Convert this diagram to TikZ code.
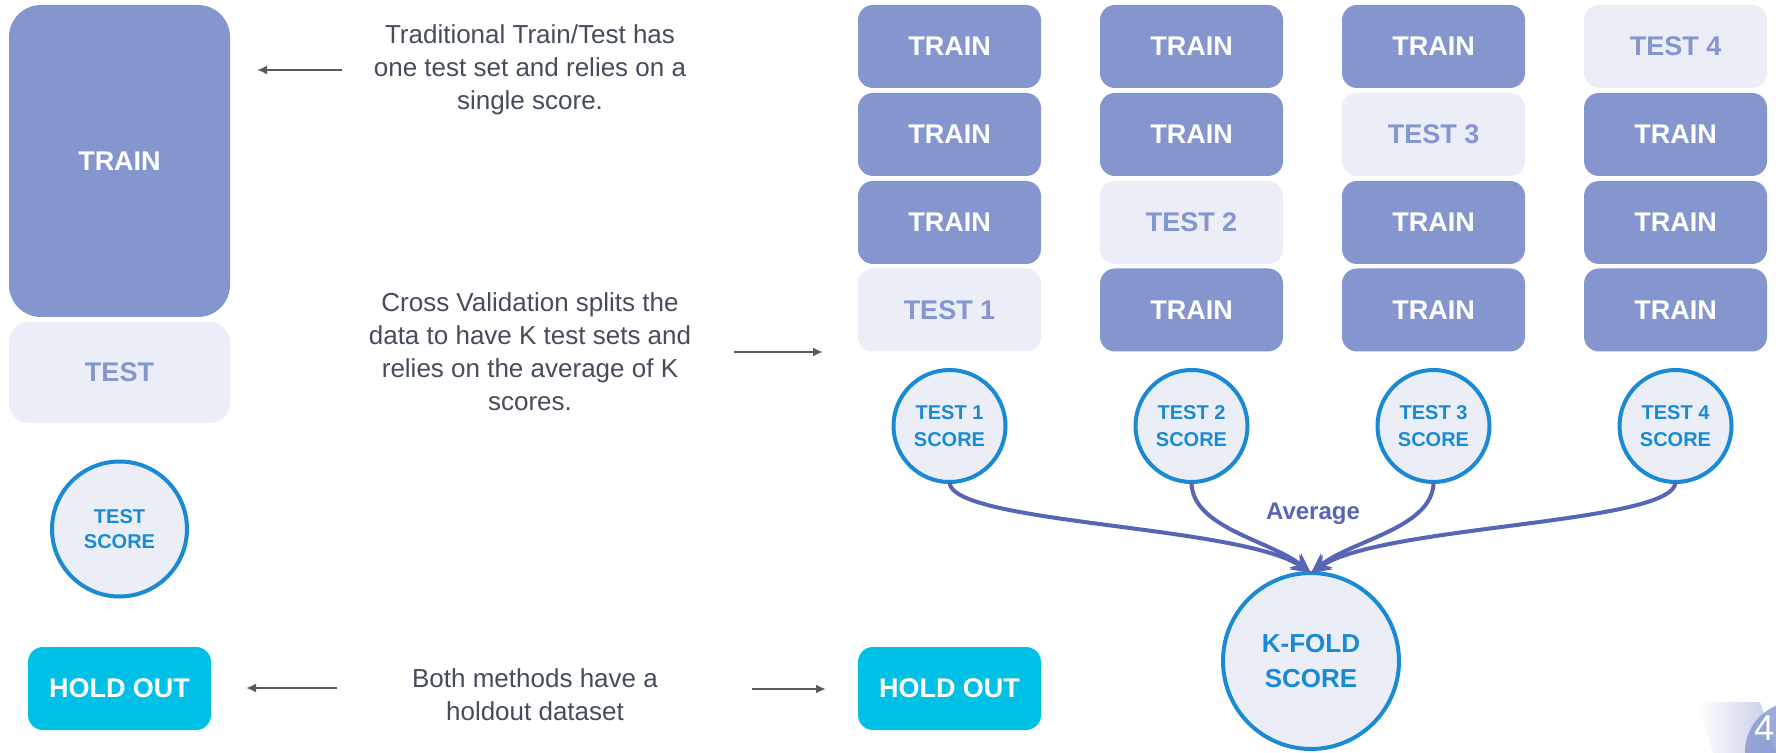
\documentclass[tikz,border=0pt]{standalone}
\usepackage{fontspec}
\setmainfont{Liberation Sans}
\usetikzlibrary{arrows.meta}

\definecolor{trainblue}{HTML}{8496CD}
\definecolor{testpale}{HTML}{EBEEF7}
\definecolor{holdcyan}{HTML}{00C0E6}
\definecolor{scoreblue}{HTML}{1A8AD4}
\definecolor{avgblue}{HTML}{5766B4}
\definecolor{notegray}{HTML}{454C5C}
\definecolor{arrowgray}{HTML}{5A5A5A}

\begin{document}
\begin{tikzpicture}[x=0.5pt,y=-0.5pt,
  every node/.style={inner sep=0pt, outer sep=0pt},
  trainbox/.style={fill=trainblue, rounded corners=7.5pt, minimum width=91.5pt, minimum height=41.5pt, text=white, font=\bfseries\fontsize{13.5}{16}\selectfont},
  testbox/.style={trainbox, fill=testpale, text=trainblue},
  holdbox/.style={trainbox, fill=holdcyan},
  scorecirc/.style={circle, draw=scoreblue, line width=2pt, fill=testpale, text=scoreblue, minimum size=56pt, align=center, font=\bfseries\fontsize{10}{13.5}\selectfont},
  note/.style={text=notegray, align=center, font=\fontsize{13}{16.5}\selectfont},
  notearrow/.style={draw=arrowgray, line width=1pt, -{Latex[length=5pt,width=4.5pt]}},
  avgline/.style={draw=avgblue, line width=2pt, -{Stealth[length=10pt,width=9pt]}}]
\fill[white] (0,0) rectangle (1776,753);
\useasboundingbox (0,0) rectangle (1776,753);

% traditional train/test
\node[trainbox, minimum width=110.5pt, minimum height=156pt, rounded corners=16pt] (train0) at (119.5,161) {TRAIN};
\node[testbox, minimum width=110.5pt, minimum height=50.5pt, rounded corners=10pt] (test0) at (119.5,372.5) {TEST};
\node[scorecirc, minimum size=67.5pt, font=\bfseries\fontsize{10}{12.5}\selectfont] (score0) at (119.5,529) {TEST\\SCORE};
\node[holdbox] (hold0) at (119.5,688.5) {HOLD OUT};

% notes in the middle
\node[note] (trad) at (530,70) {Traditional Train/Test has\\one test set and relies on a\\single score.};
\node[note] (cv) at (530,352) {Cross Validation splits the\\data to have K test sets and\\relies on the average of K\\scores.};
\node[note] (both) at (535,695) {Both methods have a\\holdout dataset};
\coordinate (n1s) at (342,70);  \coordinate (n1e) at (257,70);
\coordinate (n2s) at (734,352); \coordinate (n2e) at (823,352);
\coordinate (n3s) at (337,688); \coordinate (n3e) at (246,688);
\coordinate (n4s) at (752,689); \coordinate (n4e) at (826,689);
\draw[notearrow] (n1s) -- (n1e);
\draw[notearrow] (n2s) -- (n2e);
\draw[notearrow] (n3s) -- (n3e);
\draw[notearrow] (n4s) -- (n4e);

% k folds
\node[trainbox] (f1a) at (949.5,46.5) {TRAIN};
\node[trainbox] (f1b) at (949.5,134.5) {TRAIN};
\node[trainbox] (f1c) at (949.5,222.5) {TRAIN};
\node[testbox]  (f1d) at (949.5,310) {TEST 1};
\node[trainbox] (f2a) at (1191.5,46.5) {TRAIN};
\node[trainbox] (f2b) at (1191.5,134.5) {TRAIN};
\node[testbox]  (f2c) at (1191.5,222.5) {TEST 2};
\node[trainbox] (f2d) at (1191.5,310) {TRAIN};
\node[trainbox] (f3a) at (1433.5,46.5) {TRAIN};
\node[testbox]  (f3b) at (1433.5,134.5) {TEST 3};
\node[trainbox] (f3c) at (1433.5,222.5) {TRAIN};
\node[trainbox] (f3d) at (1433.5,310) {TRAIN};
\node[testbox]  (f4a) at (1675.5,46.5) {TEST 4};
\node[trainbox] (f4b) at (1675.5,134.5) {TRAIN};
\node[trainbox] (f4c) at (1675.5,222.5) {TRAIN};
\node[trainbox] (f4d) at (1675.5,310) {TRAIN};

% scores
\node[scorecirc] (s1) at (949.5,426) {TEST 1\\SCORE};
\node[scorecirc] (s2) at (1191.5,426) {TEST 2\\SCORE};
\node[scorecirc] (s3) at (1433.5,426) {TEST 3\\SCORE};
\node[scorecirc] (s4) at (1675.5,426) {TEST 4\\SCORE};
\node[scorecirc, minimum size=88pt, font=\bfseries\fontsize{13}{17.5}\selectfont] (kfold) at (1311,661) {K-FOLD\\SCORE};
\node[text=avgblue, font=\bfseries\fontsize{12}{14}\selectfont] (avg) at (1313,514) {Average};
\draw[avgline] (s1.south) .. controls +(0,42) and +(-71,-48) .. (kfold.north);
\draw[avgline] (s2.south) .. controls +(0,46) and +(-41,-33) .. (kfold.north);
\draw[avgline] (s3.south) .. controls +(0,46) and +(41,-33) .. (kfold.north);
\draw[avgline] (s4.south) .. controls +(0,42) and +(71,-48) .. (kfold.north);
\node[holdbox] (hold1) at (949.5,688.5) {HOLD OUT};

% page corner
\begin{scope}
\clip (0,0) rectangle (1776,753);
\shade[left color=white, right color=trainblue!50] (1697,702) -- (1760,702) -- (1776,753) -- (1713,753) -- cycle;
\fill[trainblue, opacity=0.8] (1795,752) circle[radius=50];
\node[text=white, font=\fontsize{18}{18}\selectfont] (pgnum) at (1764,728) {4};
\end{scope}
\end{tikzpicture}
\end{document}
